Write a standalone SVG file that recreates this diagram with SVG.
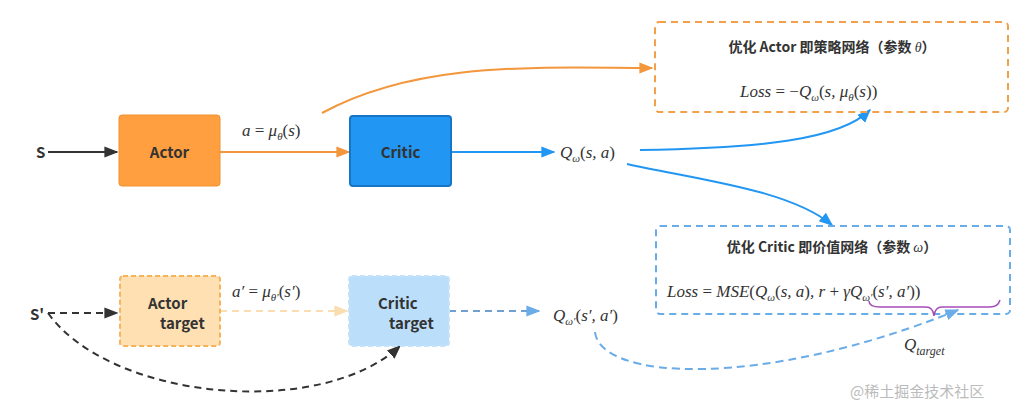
<svg xmlns="http://www.w3.org/2000/svg" width="1031" height="417" viewBox="0 0 1031 417">
<style>
.lbl{font-family:"Microsoft YaHei","Noto Sans CJK SC","Liberation Sans",sans-serif;font-weight:bold;font-size:15px;fill:#333}
.m{font-family:"Liberation Serif",serif;font-style:italic;font-size:17px;fill:#333}
.n{font-style:normal}
.t{font-family:"Noto Sans CJK SC","Liberation Sans",sans-serif;font-weight:bold;font-size:14px;fill:#333}
</style>
<defs>
<marker id="ab" viewBox="0 0 10 10" refX="9" refY="5" markerWidth="7" markerHeight="7" orient="auto"><path d="M0,1L10,5L0,9z" fill="#2196F3"/></marker>
<marker id="ao" viewBox="0 0 10 10" refX="9" refY="5" markerWidth="7" markerHeight="7" orient="auto"><path d="M0,1L10,5L0,9z" fill="#F3963C"/></marker>
<marker id="ak" viewBox="0 0 10 10" refX="9" refY="5" markerWidth="7" markerHeight="7" orient="auto"><path d="M0,1L10,5L0,9z" fill="#333"/></marker>
<marker id="al" viewBox="0 0 10 10" refX="9" refY="5" markerWidth="7" markerHeight="7" orient="auto"><path d="M0,1L10,5L0,9z" fill="#FADDB0"/></marker>
<marker id="ad" viewBox="0 0 10 10" refX="9" refY="5" markerWidth="7" markerHeight="7" orient="auto"><path d="M0,1L10,5L0,9z" fill="#6AACE8"/></marker>
</defs>
<rect width="1031" height="417" fill="#fff"/>
<g id="connectors" fill="none" stroke-width="2">
<path d="M48,152H117" stroke="#333" marker-end="url(#ak)"/>
<path d="M220,152H349" stroke="#F3963C" marker-end="url(#ao)"/>
<path d="M451,152H554" stroke="#2196F3" marker-end="url(#ab)"/>
<path d="M322,113C420,60 540,68 652,68" stroke="#F3963C" marker-end="url(#ao)"/>
<path d="M640,150C760,148 840,140 870,110" stroke="#2196F3" marker-end="url(#ab)"/>
<path d="M627,164C700,180 790,190 832,225" stroke="#2196F3" marker-end="url(#ab)"/>
<path d="M48,313H117" stroke="#333" stroke-dasharray="7,5" marker-end="url(#ak)"/>
<path d="M48,313C110,400 320,420 400,346" stroke="#333" stroke-dasharray="7,5" marker-end="url(#ak)"/>
<path d="M220,311H347" stroke="#FADDB0" stroke-dasharray="7,5" marker-end="url(#al)"/>
<path d="M449,311H539" stroke="#6FA0D0" stroke-dasharray="7,5" marker-end="url(#ad)"/>
<path d="M595,332C600,380 760,390 958,310" stroke="#6AACE8" stroke-dasharray="8,5" marker-end="url(#ad)"/>
</g>
<text x="36" y="158" class="lbl">S</text>
<text x="30" y="320" class="lbl">S'</text>
<g id="actor"><rect x="119" y="115" width="101" height="71" rx="3" fill="#FF9F40" stroke="#F0902E"/><text x="169.5" y="158" class="lbl" text-anchor="middle">Actor</text></g>
<g id="critic"><rect x="350" y="116" width="101" height="70" rx="3" fill="#2196F3" stroke="#1576C8" stroke-width="2"/><text x="400.5" y="158" class="lbl" text-anchor="middle">Critic</text></g>
<g id="actor-target"><rect x="120" y="276" width="100" height="70" rx="3" fill="#FFE0B2" stroke="#F6B35A" stroke-width="2" stroke-dasharray="5,3"/><text x="148" y="309" class="lbl">Actor</text><text x="160" y="329" class="lbl">target</text></g>
<g id="critic-target"><rect x="349" y="276" width="100" height="70" rx="3" fill="#BBDEFB" stroke="#C4E2FA" stroke-width="2" stroke-dasharray="5,3"/><text x="378" y="309" class="lbl">Critic</text><text x="389" y="329" class="lbl">target</text></g>
<text x="242" y="136" class="m">a <tspan class="n">=</tspan> μ<tspan font-size="11" dy="4">θ</tspan><tspan dy="-4" class="n">(</tspan>s<tspan class="n">)</tspan></text>
<text x="232" y="297" class="m">a′ <tspan class="n">=</tspan> μ<tspan font-size="11" dy="4">θ′</tspan><tspan dy="-4" class="n">(</tspan>s′<tspan class="n">)</tspan></text>
<text x="560" y="158" class="m">Q<tspan font-size="11" dy="4">ω</tspan><tspan dy="-4" class="n">(</tspan>s, a<tspan class="n">)</tspan></text>
<text x="553" y="321" class="m">Q<tspan font-size="11" dy="4">ω′</tspan><tspan dy="-4" class="n">(</tspan>s′, a′<tspan class="n">)</tspan></text>
<g id="actor-opt"><rect x="655" y="22" width="353" height="90" rx="4" fill="none" stroke="#F3A04A" stroke-width="2" stroke-dasharray="7,5"/>
<text x="832" y="52" class="t" text-anchor="middle">优化 Actor 即策略网络（参数 <tspan font-family="Liberation Serif" font-style="italic" font-weight="normal">θ</tspan>）</text>
<text x="740" y="97" class="m">Loss <tspan class="n">= −</tspan>Q<tspan font-size="11" dy="4">ω</tspan><tspan dy="-4" class="n">(</tspan>s, μ<tspan font-size="11" dy="4">θ</tspan><tspan dy="-4" class="n">(</tspan>s<tspan class="n">))</tspan></text></g>
<g id="critic-opt"><rect x="656" y="226" width="354" height="88" rx="4" fill="none" stroke="#6AACE8" stroke-width="2" stroke-dasharray="7,5"/>
<text x="832" y="252" class="t" text-anchor="middle">优化 Critic 即价值网络（参数 <tspan font-family="Liberation Serif" font-style="italic" font-weight="normal">ω</tspan>）</text>
<text x="667" y="297" class="m">Loss <tspan class="n">=</tspan> MSE<tspan class="n">(</tspan>Q<tspan font-size="11" dy="4">ω</tspan><tspan dy="-4" class="n">(</tspan>s, a<tspan class="n">)</tspan>, r <tspan class="n">+</tspan> γQ<tspan font-size="11" dy="4">ω′</tspan><tspan dy="-4" class="n">(</tspan>s′, a′<tspan class="n">))</tspan></text>
<path d="M869,301Q869,307 880,307H926Q933,307 934,316Q935,307 942,307H990Q998,307 1000,300" fill="none" stroke="#A64DB8" stroke-width="1.5"/></g>
<text x="904" y="350" class="m" font-size="19">Q<tspan font-size="12" dy="5">target</tspan></text>
<text x="850" y="397" font-family="Noto Sans CJK SC,sans-serif" font-size="15" fill="#bbb">@稀土掘金技术社区</text>
</svg>
